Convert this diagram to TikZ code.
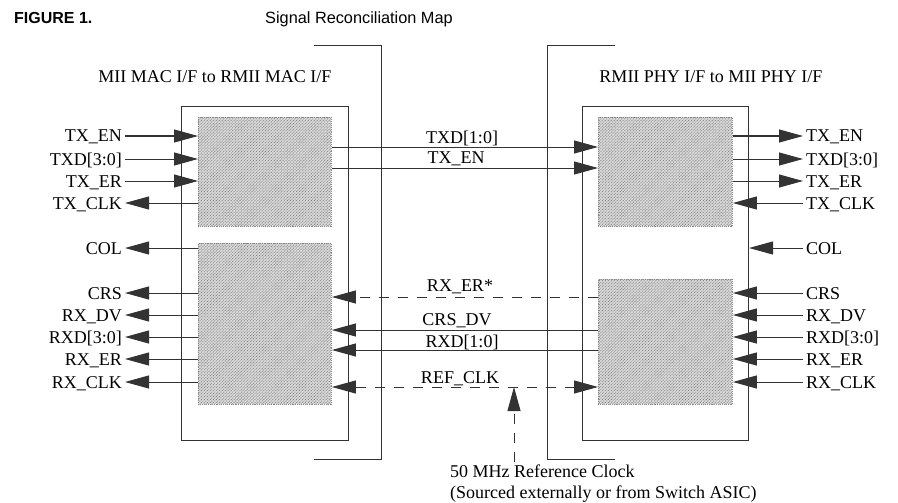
\documentclass[tikz,border=0pt]{standalone}
\usepackage{fontspec}
\setmainfont{Liberation Serif}
\newfontfamily\headfont{Liberation Sans}
\usetikzlibrary{arrows.meta,patterns.meta}
\begin{document}
\begin{tikzpicture}[x=1pt,y=-1pt,
  wire/.style={line width=1pt, draw=black!80},
  arr/.style={wire,-{Triangle[length=24pt,width=13pt]}},
  darr/.style={wire,{Triangle[length=24pt,width=13pt]}-{Triangle[length=24pt,width=13pt]}},
  dashwire/.style={dash pattern=on 10pt off 9pt},
  sig/.style={font=\fontsize{18}{21}\selectfont, inner ysep=0pt, inner xsep=3pt, text height=12pt, text depth=0pt},
  hatchbox/.style={draw=gray!90, line width=0.9pt, densely dotted, fill=gray!30, inner sep=0pt, anchor=north west,
    postaction={pattern={Lines[angle=45,distance=2.1pt,line width=0.6pt]}, pattern color=gray!95!black}},
  frame/.style={draw=black!80, line width=1pt, inner sep=0pt, anchor=north west}
]
\useasboundingbox (0,0) rectangle (898,503);

% headings
\node[anchor=west, inner sep=0pt, font=\headfont\bfseries\fontsize{16}{18}\selectfont] (fig) at (14,18) {FIGURE 1.};
\node[anchor=west, inner sep=0pt, font=\headfont\fontsize{16.3}{19}\selectfont] (title) at (265,19) {Signal Reconciliation Map};

% brackets
\draw[wire] (314,46) -- (381,46) -- (381,459) -- (314,459);
\draw[wire] (615,46) -- (547,46) -- (547,459) -- (615,459);

% inner frames
\node[frame, minimum width=167pt, minimum height=334pt] (Lin) at (181,106) {};
\node[frame, minimum width=166pt, minimum height=334pt] (Rin) at (582,106) {};

\node[sig] (lhead) at (215,77) {MII MAC I/F to RMII MAC I/F};
\node[sig] (rhead) at (711,77) {RMII PHY I/F to MII PHY I/F};

% hatched blocks
\node[hatchbox, minimum width=133pt, minimum height=109pt] (L1) at (198,117) {};
\node[hatchbox, minimum width=133pt, minimum height=161pt] (L2) at (198,243) {};
\node[hatchbox, minimum width=134pt, minimum height=109pt] (R1) at (598,117) {};
\node[hatchbox, minimum width=134pt, minimum height=125pt] (R2) at (598,279) {};

% left MII signals
\node[sig, anchor=east] (lTXEN) at (125,136) {TX\_EN};
\node[sig, anchor=east] (lTXD) at (125,159) {TXD[3:0]};
\node[sig, anchor=east] (lTXER) at (125,181) {TX\_ER};
\node[sig, anchor=east] (lTXCLK) at (125,203) {TX\_CLK};
\node[sig, anchor=east] (lCOL) at (125,248) {COL};
\node[sig, anchor=east] (lCRS) at (125,293) {CRS};
\node[sig, anchor=east] (lRXDV) at (125,315) {RX\_DV};
\node[sig, anchor=east] (lRXD) at (125,337) {RXD[3:0]};
\node[sig, anchor=east] (lRXER) at (125,359) {RX\_ER};
\node[sig, anchor=east] (lRXCLK) at (125,382) {RX\_CLK};

\draw[arr] (lTXEN.east) -- (lTXEN.east -| L1.west);
\draw[arr] (lTXD.east) -- (lTXD.east -| L1.west);
\draw[arr] (lTXER.east) -- (lTXER.east -| L1.west);
\draw[arr] (L1.west |- lTXCLK.east) -- (lTXCLK.east);
\draw[arr] (L2.west |- lCOL.east) -- (lCOL.east);
\draw[arr] (L2.west |- lCRS.east) -- (lCRS.east);
\draw[arr] (L2.west |- lRXDV.east) -- (lRXDV.east);
\draw[arr] (L2.west |- lRXD.east) -- (lRXD.east);
\draw[arr] (L2.west |- lRXER.east) -- (lRXER.east);
\draw[arr] (L2.west |- lRXCLK.east) -- (lRXCLK.east);

% right MII signals
\node[sig, anchor=west] (rTXEN) at (803,136) {TX\_EN};
\node[sig, anchor=west] (rTXD) at (803,159) {TXD[3:0]};
\node[sig, anchor=west] (rTXER) at (803,181) {TX\_ER};
\node[sig, anchor=west] (rTXCLK) at (803,203) {TX\_CLK};
\node[sig, anchor=west] (rCOL) at (803,248) {COL};
\node[sig, anchor=west] (rCRS) at (803,293) {CRS};
\node[sig, anchor=west] (rRXDV) at (803,315) {RX\_DV};
\node[sig, anchor=west] (rRXD) at (803,337) {RXD[3:0]};
\node[sig, anchor=west] (rRXER) at (803,359) {RX\_ER};
\node[sig, anchor=west] (rRXCLK) at (803,382) {RX\_CLK};

\draw[arr] (R1.east |- rTXEN.west) -- (rTXEN.west);
\draw[arr] (R1.east |- rTXD.west) -- (rTXD.west);
\draw[arr] (R1.east |- rTXER.west) -- (rTXER.west);
\draw[arr] (rTXCLK.west) -- (rTXCLK.west -| R1.east);
\draw[arr] (rCOL.west) -- (rCOL.west -| Rin.east);
\draw[arr] (rCRS.west) -- (rCRS.west -| R2.east);
\draw[arr] (rRXDV.west) -- (rRXDV.west -| R2.east);
\draw[arr] (rRXD.west) -- (rRXD.west -| R2.east);
\draw[arr] (rRXER.west) -- (rRXER.west -| R2.east);
\draw[arr] (rRXCLK.west) -- (rRXCLK.west -| R2.east);

% RMII signals between blocks
\node[sig] (mTXD) at (462,137) {TXD[1:0]};
\node[sig] (mTXEN) at (456,157) {TX\_EN};
\node[sig] (mRXER) at (460,285) {RX\_ER*};
\node[sig] (mCRSDV) at (457,319) {CRS\_DV};
\node[sig] (mRXD) at (462,341) {RXD[1:0]};
\node[sig] (mREF) at (460,377) {REF\_CLK};

\draw[arr] (L1.east |- 0,147) -- (R1.west |- 0,147);
\draw[arr] (L1.east |- 0,168) -- (R1.west |- 0,168);
\draw[arr, dashwire] (R2.west |- 0,297) -- (L2.east |- 0,297);
\draw[arr] (R2.west |- 0,330) -- (L2.east |- 0,330);
\draw[arr] (R2.west |- 0,350) -- (L2.east |- 0,350);
\draw[darr, dashwire] (L2.east |- 0,387) -- (R2.west |- 0,387);

% reference clock source
\coordinate (refsrc) at (514,387);
\node[sig, anchor=west, inner xsep=0pt, inner ysep=3pt] (clk1) at (450,471) {50 MHz Reference Clock};
\node[sig, anchor=west, inner xsep=0pt] (clk2) at (450,492) {(Sourced externally or from Switch ASIC)};
\draw[arr, dashwire] (clk1.north -| refsrc) -- (refsrc);
\end{tikzpicture}
\end{document}
